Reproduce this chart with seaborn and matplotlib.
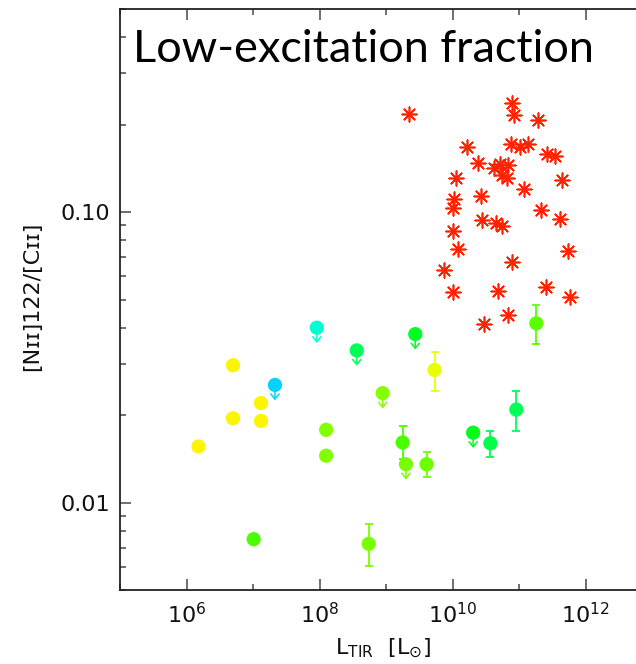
import numpy as np
import pandas as pd
import matplotlib
matplotlib.use("Agg")
import matplotlib.pyplot as plt
from matplotlib import ticker
import seaborn as sns

# ---- data -------------------------------------------------------------
# Galaxies (red asterisks): L_TIR [Lsun] and [NII]122/[CII]
gal_ltir = [10**9.35, 10**10.90, 10**10.93, 10**11.28, 10**10.22, 10**10.88,
            10**11.02, 10**11.14, 10**11.42, 10**11.54, 10**10.39, 10**10.62,
            10**10.71, 10**10.83, 10**10.74, 10**10.82, 10**11.64, 10**10.05,
            10**10.43, 10**11.07, 10**10.03, 10**10.00, 10**11.33, 10**11.61,
            10**10.44, 10**10.66, 10**10.74, 10**10.01, 10**10.09, 10**11.73,
            10**10.89, 10**9.87, 10**10.00, 10**10.68, 10**11.40, 10**11.77,
            10**10.83, 10**10.47]
gal_ratio = [0.218, 0.238, 0.216, 0.208, 0.168, 0.172, 0.167, 0.171, 0.159,
             0.156, 0.148, 0.142, 0.146, 0.145, 0.134, 0.131, 0.129, 0.131,
             0.114, 0.120, 0.111, 0.103, 0.1016, 0.095, 0.0936, 0.0914,
             0.0894, 0.0863, 0.0744, 0.0736, 0.0672, 0.0630, 0.0532, 0.0536,
             0.0552, 0.0508, 0.0442, 0.0413]

# Dwarfs (coloured circles): L_TIR, ratio, colour hue (deg), limit flag,
# lower / upper error bounds (nan = no error bar)
dw_ltir = [10**6.18, 10**6.70, 10**6.70, 10**7.12, 10**7.12, 10**7.33,
           10**7.96, 10**7.01, 10**8.10, 10**8.10, 10**8.56, 10**8.74,
           10**8.95, 10**9.25, 10**9.30, 10**9.44, 10**9.61, 10**9.73,
           10**10.31, 10**10.57, 10**10.96, 10**11.26]
dw_ratio = [0.0156, 0.0297, 0.0195, 0.0220, 0.0191, 0.0254,
            0.0400, 0.00748, 0.0178, 0.0145, 0.0334, 0.00721,
            0.0238, 0.0161, 0.01355, 0.0380, 0.01355, 0.0286,
            0.0174, 0.0160, 0.0209, 0.0414]
dw_hue = [60, 60, 60, 60, 60, 193,
          172, 105, 90, 90, 143, 93,
          90, 105, 94, 131, 96, 67,
          128, 140, 143, 100]
dw_upper_limit = [0, 0, 0, 0, 0, 1,
                  1, 0, 0, 0, 1, 0,
                  1, 0, 1, 1, 0, 0,
                  1, 0, 0, 0]
nan = np.nan
dw_err_lo = [nan, nan, nan, nan, nan, nan,
             nan, nan, nan, nan, nan, 0.00603,
             nan, 0.0141, nan, nan, 0.0122, 0.0243,
             nan, 0.0144, 0.0177, 0.0351]
dw_err_hi = [nan, nan, nan, nan, nan, nan,
             nan, nan, nan, nan, nan, 0.00841,
             nan, 0.0183, nan, nan, 0.0149, 0.0331,
             nan, 0.0176, 0.0243, 0.0478]

x_tick_exponents = [6, 8, 10, 12]
y_tick_values = [0.01, 0.10]

# ---- figure -----------------------------------------------------------
sns.set_theme(style="ticks")
plt.rcParams["font.family"] = ["DejaVu Sans"]
plt.rcParams["mathtext.fontset"] = "dejavusans"

W, H = 636, 664
fig = plt.figure(figsize=(W / 100, H / 100), dpi=100)
# the frame runs past the right edge of the canvas
ax = fig.add_axes([120 / W, 74 / H, 532 / W, 581 / H])
ax.set_xscale("log")
ax.set_yscale("log")
ax.set_xlim(1e5, 1e13)
ax.set_ylim(0.005, 0.5)

gal = pd.DataFrame({"ltir": gal_ltir, "ratio": gal_ratio})
dw = pd.DataFrame({"ltir": dw_ltir, "ratio": dw_ratio, "hue": dw_hue,
                   "ul": dw_upper_limit, "lo": dw_err_lo, "hi": dw_err_hi})

cmap = plt.get_cmap("hsv")
hue_norm = plt.Normalize(0, 360)

# error bars
eb = dw.dropna(subset=["lo", "hi"])
for _, r in eb.iterrows():
    col = cmap(hue_norm(r["hue"]))
    ax.errorbar([r["ltir"]], [r["ratio"]],
                yerr=[[r["ratio"] - r["lo"]], [r["hi"] - r["ratio"]]],
                fmt="none", ecolor=col, elinewidth=1.3, capsize=3.2,
                capthick=1.3, zorder=2)

# upper-limit arrows
for _, r in dw[dw["ul"] == 1].iterrows():
    col = cmap(hue_norm(r["hue"]))
    ax.annotate("", xy=(r["ltir"], r["ratio"]), xycoords="data",
                xytext=(0, -11), textcoords="offset points",
                arrowprops=dict(arrowstyle="<-,head_length=0.3,head_width=0.25",
                                color=col, lw=1.1, shrinkA=0, shrinkB=0),
                zorder=2)

sns.scatterplot(data=dw, x="ltir", y="ratio", hue="hue", palette="hsv",
                hue_norm=(0, 360), s=105, marker="o", edgecolor="none",
                linewidth=0, legend=False, ax=ax, zorder=3)

sns.scatterplot(data=gal, x="ltir", y="ratio", color="#ff2200",
                marker=(8, 2, 0), s=110, linewidth=1.2, legend=False,
                ax=ax, zorder=3)

# ---- axes styling -----------------------------------------------------
spine_col = "#222222"
for side in ["left", "bottom", "top", "right"]:
    ax.spines[side].set_color(spine_col)
    ax.spines[side].set_linewidth(1.3)

ax.xaxis.set_major_locator(ticker.FixedLocator([10.0**e for e in x_tick_exponents]))
ax.xaxis.set_minor_locator(ticker.LogLocator(base=10, subs=(1.0,), numticks=20))
ax.xaxis.set_major_formatter(ticker.FuncFormatter(
    lambda v, p: r"$\mathregular{10^{%d}}$" % int(round(np.log10(v)))))
ax.xaxis.set_minor_formatter(ticker.NullFormatter())

ax.yaxis.set_major_locator(ticker.FixedLocator(y_tick_values))
ax.yaxis.set_minor_locator(ticker.LogLocator(base=10, subs=np.arange(2, 10), numticks=20))
ax.yaxis.set_major_formatter(ticker.FuncFormatter(lambda v, p: f"{v:.2f}"))
ax.yaxis.set_minor_formatter(ticker.NullFormatter())

ax.tick_params(which="both", direction="in", color="#555555", width=1.2,
               top=True, right=True, labelsize=16, labelcolor="#111111")
ax.tick_params(which="major", length=8)
ax.tick_params(which="minor", length=4)
ax.tick_params(axis="x", which="major", pad=9)
ax.tick_params(axis="y", which="major", pad=7)

ax.set_xlabel(r"$\mathregular{L_{TIR}\ \ [L_{\odot}]}$", fontsize=16, color="#111111")
ax.set_ylabel("[N\u026a\u026a]122/[C\u026a\u026a]", fontsize=16, color="#111111")
ax.xaxis.label.set_va("center")
ax.yaxis.label.set_va("center")
ax.xaxis.set_label_coords(0.494, -0.101)
ax.yaxis.set_label_coords(-0.165, 0.505)

fig.text(133 / W, 1 - 62 / H, "Low-excitation fraction", fontsize=32.5,
         family=["Lato", "DejaVu Sans"], color="black", va="baseline", ha="left")

fig.savefig("out.png", dpi=100)
